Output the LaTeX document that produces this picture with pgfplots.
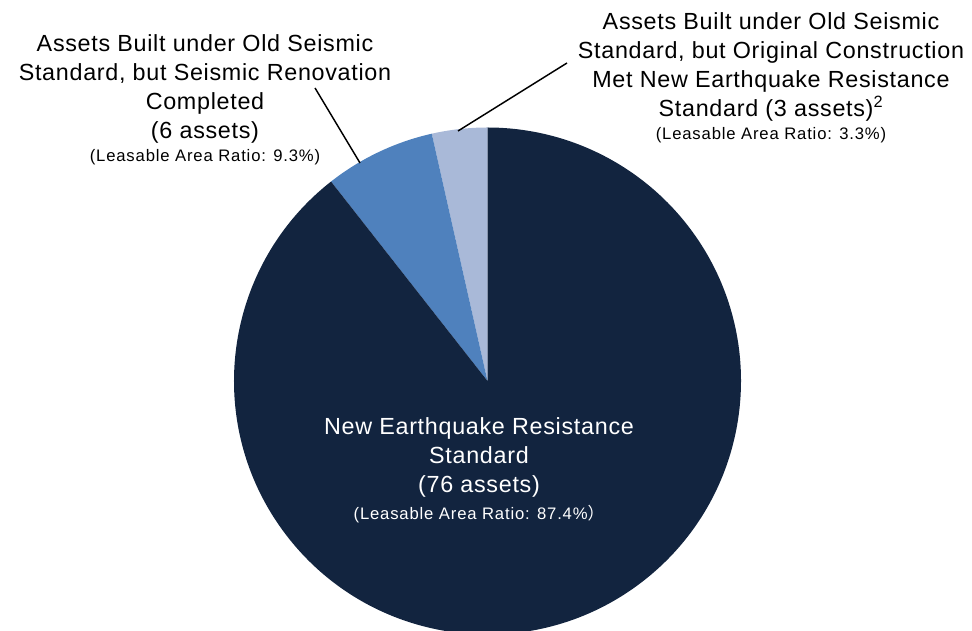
\documentclass[border=0pt]{standalone}
\usepackage{pgfplots}
\usepackage{pgfplotstable}
\pgfplotsset{compat=1.18}
\usepackage{fontspec}
\setmainfont{Liberation Sans}
\newfontfamily\wide[LetterSpace=3]{Liberation Sans}
\newfontfamily\widesm[LetterSpace=5]{Liberation Sans}
\newfontfamily\cjk{Noto Sans CJK JP}
\definecolor{cdark}{HTML}{12243F}
\definecolor{cmed}{HTML}{4F81BD}
\definecolor{clight}{HTML}{A9B9D8}
\pgfplotstableread{
label value
OrigMet 3
Renovated 6
New 76
}\piedata
\newcommand{\sm}[1]{{\widesm\fontsize{12.5}{16}\selectfont #1}}
\begin{document}%
\pgfplotstablegetelem{0}{value}\of\piedata \let\va\pgfplotsretval%
\pgfplotstablegetelem{1}{value}\of\piedata \let\vb\pgfplotsretval%
\pgfplotstablegetelem{2}{value}\of\piedata \let\vc\pgfplotsretval%
\pgfmathsetmacro{\tot}{\va+\vb+\vc}%
\pgfmathsetmacro{\aA}{90+360/\tot*\va}%
\pgfmathsetmacro{\aB}{\aA+360/\tot*\vb}%
\pgfmathsetmacro{\aC}{\aB+360/\tot*\vc}%
\def\R{190.125pt}%
\begin{tikzpicture}
\begin{axis}[
  width=729pt, height=473.25pt, scale only axis,
  xmin=0, xmax=972, ymin=0, ymax=631,
  hide axis, clip=true,
]
\fill[clight] (axis cs:487.5,250) -- +(90:\R) arc[start angle=90, end angle=\aA, radius=\R] -- cycle;
\fill[cmed] (axis cs:487.5,250) -- +(\aA:\R) arc[start angle=\aA, end angle=\aB, radius=\R] -- cycle;
\fill[cdark] (axis cs:487.5,250) -- +(\aB:\R) arc[start angle=\aB, end angle=\aC, radius=\R] -- cycle;
\draw[black, line width=1.1pt] (axis cs:315,543) -- (axis cs:360,468);
\draw[black, line width=1.1pt] (axis cs:458,500) -- (axis cs:567,568);
\node[align=center, anchor=north, font=\wide\fontsize{17.5}{21.75}\selectfont, inner sep=0pt] at (axis cs:205,597)
  {Assets Built under Old Seismic\\Standard, but Seismic Renovation\\Completed\\(6 assets)\\[-4.5pt]\sm{(Leasable Area Ratio: 9.3\%)}};
\node[align=center, anchor=north, font=\wide\fontsize{17.5}{21.75}\selectfont, inner sep=0pt] at (axis cs:771,619)
  {Assets Built under Old Seismic\\Standard, but Original Construction\\Met New Earthquake Resistance\\Standard (3 assets)\textsuperscript{2}\\[-4.5pt]\sm{(Leasable Area Ratio: 3.3\%)}};
\node[align=center, anchor=north, text=white, font=\wide\fontsize{17.5}{21.75}\selectfont, inner sep=0pt] at (axis cs:479,214)
  {New Earthquake Resistance\\Standard\\(76 assets)\\[-1pt]\sm{(Leasable Area Ratio: 87.4\%{\cjk ）}}};
\draw[draw=none] (rel axis cs:0,0) rectangle (rel axis cs:1,1);
\end{axis}
\end{tikzpicture}
\end{document}
